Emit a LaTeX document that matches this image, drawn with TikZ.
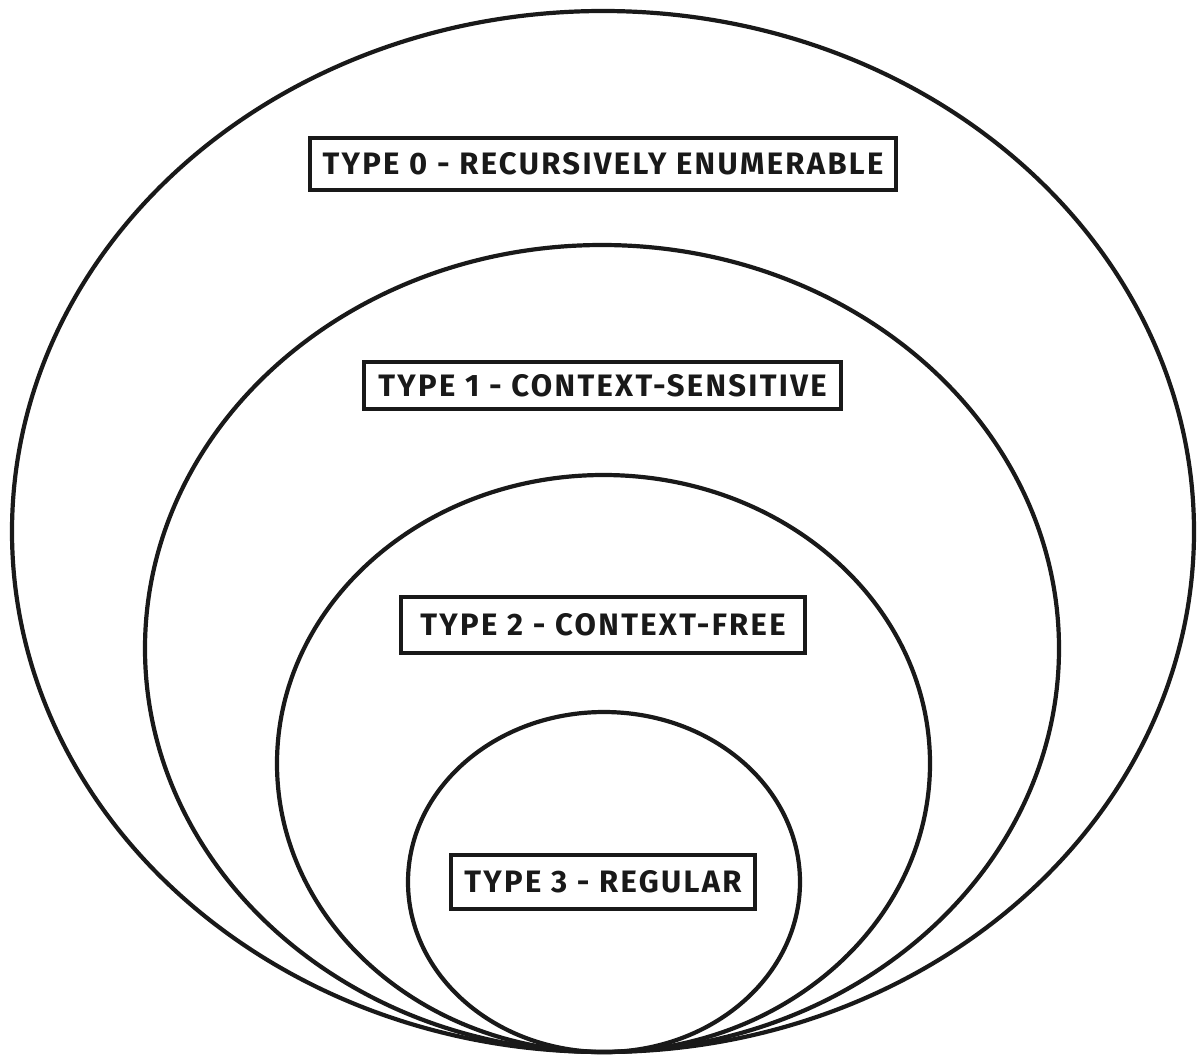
\documentclass[tikz,border=0pt]{standalone}
\usepackage{fontspec}
\setmainfont{Fira Sans}[LetterSpace=7.5]
\begin{document}
\begin{tikzpicture}[x=1pt,y=-1pt,
  ring/.style={draw=black!90, line width=4.2pt},
  label/.style={draw=black!90, line width=3.8pt, fill=white, inner sep=0pt,
    font=\fontsize{31}{34}\bfseries, text=black!90}]
  \useasboundingbox (0,0) rectangle (1200,1055);
  % nested classes, all touching at the bottom
  \draw[ring] (603,531.5) ellipse [x radius=591, y radius=520.5];
  \draw[ring] (602,648.5) ellipse [x radius=457, y radius=403.5];
  \draw[ring] (603.5,763.5) ellipse [x radius=326.5, y radius=288.5];
  \draw[ring] (604,882) ellipse [x radius=196, y radius=170];
  % class labels
  \node[label, minimum width=586, minimum height=52] (t0) at (603,164) {TYPE 0 - RECURSIVELY ENUMERABLE};
  \node[label, minimum width=477, minimum height=47] (t1) at (602.5,385.5) {TYPE 1 - CONTEXT-SENSITIVE};
  \node[label, minimum width=404, minimum height=56] (t2) at (603,625) {TYPE 2 - CONTEXT-FREE};
  \node[label, minimum width=304, minimum height=54] (t3) at (603,882) {TYPE 3 - REGULAR};
\end{tikzpicture}
\end{document}
